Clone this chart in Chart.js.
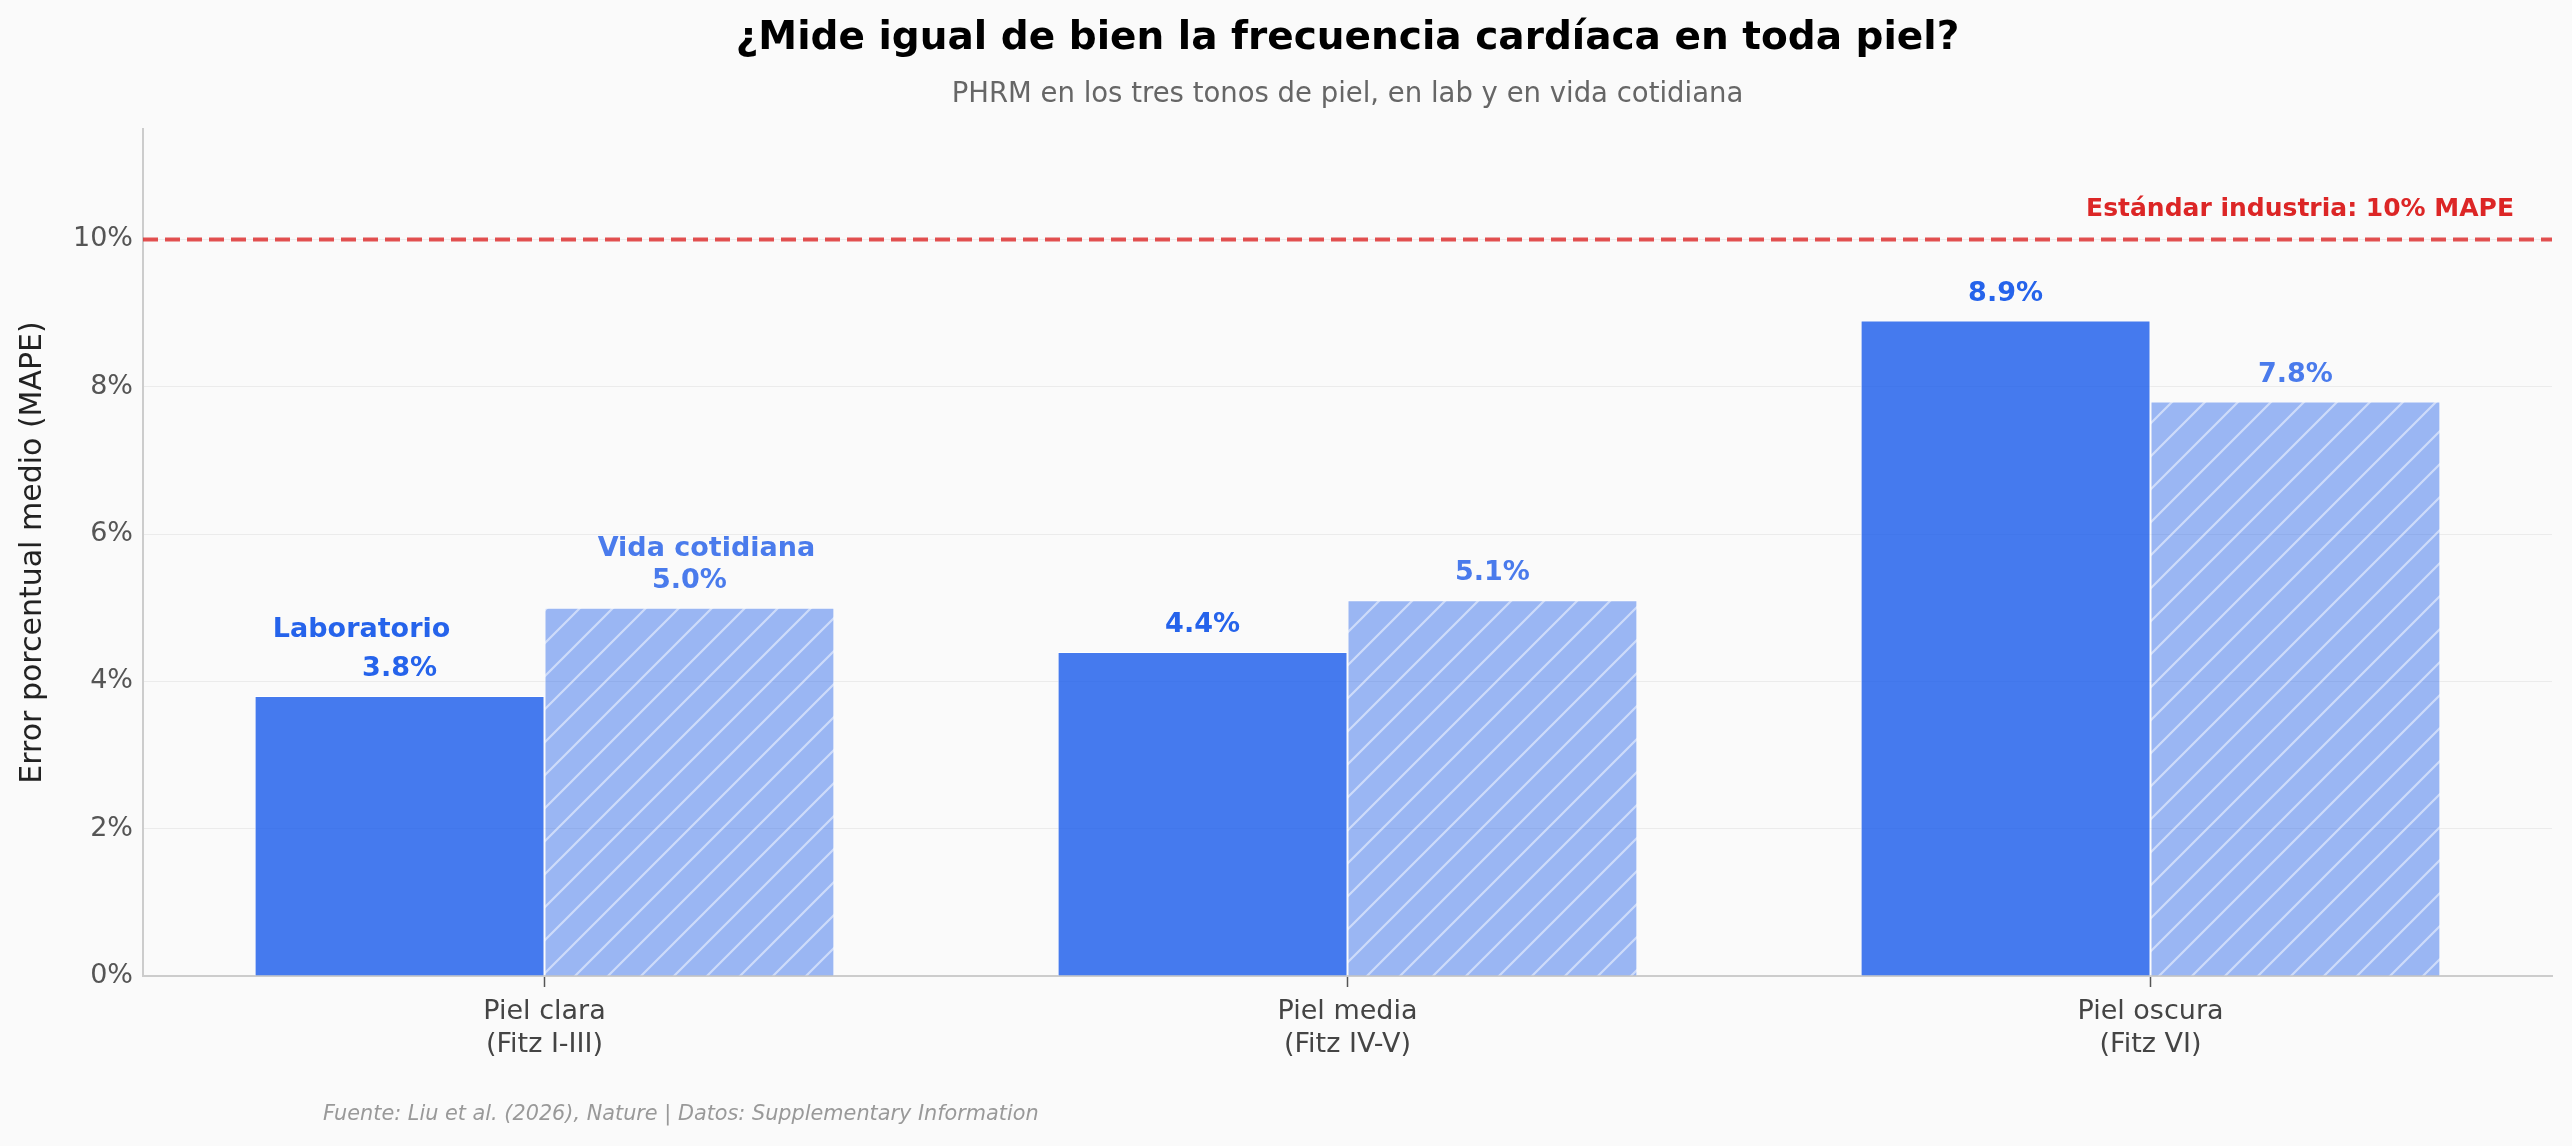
<!DOCTYPE html>
<html>
<head>
<meta charset="utf-8">
<script src="https://cdn.jsdelivr.net/npm/chart.js@4.4.1/dist/chart.umd.min.js"></script>
<style>
  html, body { margin: 0; padding: 0; background: #fafafa; }
  #wrap { width: 2572px; height: 1146px; }
</style>
</head>
<body>
<div id="wrap"><canvas id="myChart" width="2572" height="1146"></canvas></div>
<script>
'use strict';
//////////////// data

let skinTones = [['Piel clara', '(Fitz I-III)'], ['Piel media', '(Fitz IV-V)'], ['Piel oscura', '(Fitz VI)']];
let labMape = [3.8, 4.4, 8.9];
let dailyMape = [5.0, 5.1, 7.8];
let seriesNames = ['Laboratorio', 'Vida cotidiana'];
let yTickValues = [0, 2, 4, 6, 8, 10];
let industryLimit = 10;

let titleText = '¿Mide igual de bien la frecuencia cardíaca en toda piel?';
let subtitleText = 'PHRM en los tres tonos de piel, en lab y en vida cotidiana';
let yTitleText = 'Error porcentual medio (MAPE)';
let limitText = 'Estándar industria: 10% MAPE';
let sourceText = 'Fuente: Liu et al. (2026), Nature | Datos: Supplementary Information';

let fontName = '"DejaVu Sans", sans-serif';
let labColor = '#2563EB';
let dailyColor = '#4A7BEC';

let ctx = document.getElementById('myChart').getContext('2d');

/////////////// hatch pattern for the "vida cotidiana" bars
function makeHatch () {
  let size = 33;
  let tile = document.createElement('canvas');
  tile.width = size;
  tile.height = size;
  let c = tile.getContext('2d');
  c.fillStyle = 'rgba(37, 99, 235, 0.45)';
  c.fillRect(0, 0, size, size);
  c.strokeStyle = 'rgba(255, 255, 255, 0.5)';
  c.lineWidth = 2.2;
  c.beginPath();
  c.moveTo(-5, size + 5); c.lineTo(size + 5, -5);
  c.moveTo(-5, 5); c.lineTo(5, -5);
  c.moveTo(size - 5, size + 5); c.lineTo(size + 5, size - 5);
  c.stroke();
  return ctx.createPattern(tile, 'repeat');
}

//////////////// extra drawing (background, limit line, labels, texts)
let decor = {
  id: 'decor',
  beforeDraw (chart) {
    let c = chart.ctx;
    c.save();
    c.fillStyle = '#fafafa';
    c.fillRect(0, 0, chart.width, chart.height);
    c.restore();
  },
  afterDatasetsDraw (chart) {
    let c = chart.ctx;
    let area = chart.chartArea;
    let yScale = chart.scales.y;
    let yLimit = yScale.getPixelForValue(industryLimit);

    c.save();
    // limit line
    c.strokeStyle = 'rgba(220, 38, 38, 0.8)';
    c.lineWidth = 4;
    c.setLineDash([15, 7]);
    c.beginPath();
    c.moveTo(area.left, yLimit);
    c.lineTo(area.right, yLimit);
    c.stroke();
    c.setLineDash([]);

    c.fillStyle = '#DC2626';
    c.font = 'bold 25px ' + fontName;
    c.textAlign = 'right';
    c.textBaseline = 'middle';
    c.fillText(limitText, area.right - 38, yLimit - 30);

    // value labels
    c.textAlign = 'center';
    c.font = 'bold 27px ' + fontName;
    let colors = [labColor, dailyColor];
    chart.data.datasets.forEach(function (ds, i) {
      let meta = chart.getDatasetMeta(i);
      meta.data.forEach(function (bar, j) {
        c.fillStyle = colors[i];
        c.fillText(ds.data[j].toFixed(1) + '%', bar.x, bar.y - 27);
      });
    });

    // series names above the first group
    let labBar = chart.getDatasetMeta(0).data[0];
    let dailyBar = chart.getDatasetMeta(1).data[0];
    c.fillStyle = labColor;
    c.fillText(seriesNames[0], labBar.x - 38, labBar.y - 66);
    c.fillStyle = dailyColor;
    c.fillText(seriesNames[1], dailyBar.x + 17, dailyBar.y - 59);
    c.restore();
  },
  afterDraw (chart) {
    let c = chart.ctx;
    let area = chart.chartArea;
    let midX = (area.left + area.right) / 2;
    c.save();
    c.textAlign = 'center';
    c.textBaseline = 'middle';
    c.fillStyle = '#000';
    c.font = 'bold 39px ' + fontName;
    c.fillText(titleText, midX, 39);
    c.fillStyle = '#666';
    c.font = '27.5px ' + fontName;
    c.fillText(subtitleText, midX, 95);

    // y title
    c.save();
    c.translate(33, (area.top + area.bottom) / 2);
    c.rotate(-Math.PI / 2);
    c.fillStyle = '#222';
    c.font = '30px ' + fontName;
    c.fillText(yTitleText, 0, 0);
    c.restore();

    // source
    c.textAlign = 'left';
    c.fillStyle = '#999';
    c.font = 'italic 20.8px ' + fontName;
    c.fillText(sourceText, 323, 1115);
    c.restore();
  }
};

///////////////////// chart
let myChart = new Chart(ctx, {
  type: 'bar',
  data: {
    labels: skinTones,
    datasets: [
      {
        label: seriesNames[0],
        data: labMape,
        backgroundColor: 'rgba(37, 99, 235, 0.85)',
        borderColor: 'rgba(255, 255, 255, 0.9)',
        borderWidth: 1,
        categoryPercentage: 0.722,
        barPercentage: 1
      },
      {
        label: seriesNames[1],
        data: dailyMape,
        backgroundColor: makeHatch(),
        borderColor: 'rgba(255, 255, 255, 0.6)',
        borderWidth: 1,
        categoryPercentage: 0.722,
        barPercentage: 1
      }
    ]
  },
  options: {
    responsive: false,
    animation: false,
    devicePixelRatio: 1,
    layout: { padding: { top: 129, right: 20, left: 0, bottom: 0 } },
    plugins: {
      legend: { display: false },
      tooltip: { enabled: false }
    },
    scales: {
      x: {
        grid: {
          drawOnChartArea: false,
          drawTicks: true,
          tickLength: 11,
          offset: false,
          tickColor: '#555',
          tickWidth: 1.5
        },
        border: { display: true, color: '#cccccc', width: 2 },
        ticks: {
          font: { family: fontName, size: 27 },
          color: '#444',
          padding: 9
        },
        afterFit (scale) {
          scale.height = 170;
        }
      },
      y: {
        min: 0,
        max: 11.5,
        grid: { color: '#ebebeb', drawTicks: false, lineWidth: 1 },
        border: { display: true, color: '#cccccc', width: 2 },
        ticks: {
          font: { family: fontName, size: 27 },
          color: '#555',
          padding: 10,
          callback: function (v) { return v + '%'; }
        },
        afterBuildTicks (scale) {
          scale.ticks = yTickValues.map(function (v) { return { value: v }; });
        },
        afterFit (scale) {
          scale.width = 143;
        }
      }
    }
  },
  plugins: [decor]
});
</script>
</body>
</html>
